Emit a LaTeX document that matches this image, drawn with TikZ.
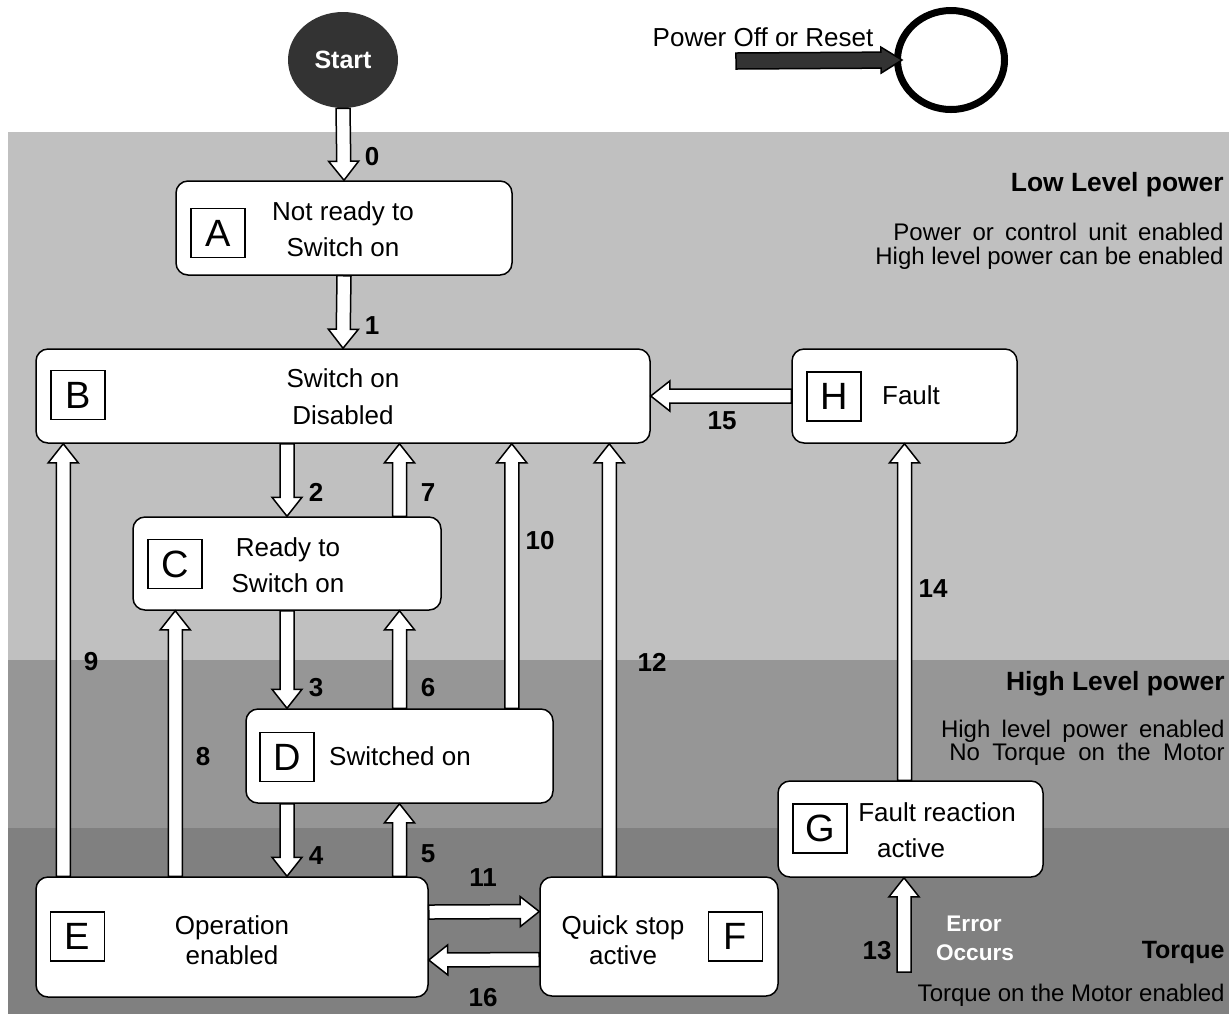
\documentclass[tikz,border=0pt]{standalone}
\usepackage{fontspec}
\setmainfont{Liberation Sans}
\usetikzlibrary{calc,shapes.geometric}
\definecolor{bandlow}{HTML}{C0C0C0}
\definecolor{bandhigh}{HTML}{969696}
\definecolor{bandtorque}{HTML}{808080}
\definecolor{darkfill}{HTML}{333333}

% block arrow sizes: shaft half width, head half width, head length
\def\basw{3.5pt}
\def\bahw{7.5pt}
\def\bahl{9.5pt}
% \blockarrow[style]{from}{to}: outlined wide arrow between two points
\newcommand\blockarrow[3][]{%
  \coordinate (ba-s) at (#2);
  \coordinate (ba-t) at (#3);
  \coordinate (ba-b) at ($(ba-t)!\bahl!(ba-s)$);
  \draw[blockarrow,#1]
    ($(ba-s)!\basw!90:(ba-t)$) -- ($(ba-b)!\basw!90:(ba-t)$) --
    ($(ba-b)!\bahw!90:(ba-t)$) -- (ba-t) --
    ($(ba-b)!\bahw!-90:(ba-t)$) -- ($(ba-b)!\basw!-90:(ba-t)$) --
    ($(ba-s)!\basw!-90:(ba-t)$) -- cycle;
}
% \widespace{extra}{text}: text with widened word spaces
\newcommand\widespace[2]{{\spaceskip=\dimexpr\fontdimen2\font+#1\relax #2}}

\begin{document}
\begin{tikzpicture}[x=0.5pt,y=-0.5pt,
  state/.style={draw, fill=white, line width=0.75pt, rounded corners=6pt, inner sep=0pt},
  letterbox/.style={draw, fill=white, line width=0.75pt, minimum width=27pt,
    minimum height=24.5pt, inner sep=0pt, font=\fontsize{19}{21}\selectfont},
  txt/.style={inner sep=0pt, text height=9.3pt, text depth=0pt, font=\fontsize{13}{15}\selectfont},
  num/.style={inner sep=0pt, text height=9.3pt, text depth=0pt, font=\fontsize{13}{15}\selectfont\bfseries},
  head/.style={anchor=east, inner sep=0pt, text height=9.4pt, text depth=0pt,
    font=\fontsize{13.2}{15}\selectfont\bfseries},
  desc/.style={anchor=east, inner sep=0pt, text height=8.6pt, text depth=0pt,
    font=\fontsize{12}{14}\selectfont},
  note/.style={inner sep=0pt, text height=8.1pt, text depth=0pt, text=white,
    font=\fontsize{11.3}{13}\selectfont\bfseries},
  blockarrow/.style={draw=black, fill=white, line width=0.75pt, line join=miter}]

\useasboundingbox (0,0) rectangle (1229,1014);

% power level bands
\fill[bandlow] (8,132) rectangle (1229,660);
\fill[bandhigh] (8,660) rectangle (1229,828);
\fill[bandtorque] (8,828) rectangle (1229,1014);

% start and reset symbols
\node[ellipse, fill=darkfill, minimum width=55pt, minimum height=48pt, inner sep=0pt,
  text=white, font=\fontsize{12.5}{15}\selectfont\bfseries] (Start) at (343,60) {Start};
\node[ellipse, draw, fill=white, line width=3.5pt, minimum width=53.5pt,
  minimum height=49.5pt, inner sep=0pt] (off) at (951,60) {};
\node[txt] (poff) at (763,37) {Power Off or Reset};
\coordinate (pw) at (736,61);
{\def\basw{4pt}\def\bahw{6.5pt}\def\bahl{10.5pt}%
 \blockarrow[fill=darkfill]{pw}{$(off.west)+(8,0)$}}

% states
\node[state, minimum width=168pt, minimum height=47pt] (A) at (344,228) {};
\node[state, minimum width=307pt, minimum height=47pt] (B) at (343,396) {};
\node[state, minimum width=154pt, minimum height=46.5pt] (C) at (287,563.5) {};
\node[state, minimum width=153.5pt, minimum height=47pt] (D) at (399.5,756) {};
\node[state, minimum width=196pt, minimum height=60pt] (E) at (232,937) {};
\node[state, minimum width=119pt, minimum height=59.5pt] (F) at (659,936.5) {};
\node[state, minimum width=132.5pt, minimum height=48pt] (G) at (910.5,829) {};
\node[state, minimum width=112.5pt, minimum height=47pt] (H) at (904.5,396) {};

% state letters
\node[letterbox] (LA) at (218,233) {A};
\node[letterbox] (LB) at (78,395) {B};
\node[letterbox] (LC) at (175,564) {C};
\node[letterbox] (LD) at (287,757) {D};
\node[letterbox] (LE) at (77.5,936.5) {E};
\node[letterbox] (LF) at (735.5,936.5) {F};
\node[letterbox] (LG) at (820,828.5) {G};
\node[letterbox] (LH) at (834,396.5) {H};

% state names
\node[txt] (tA1) at (343,211) {Not ready to};
\node[txt] (tA2) at (343,247) {Switch on};
\node[txt] (tB1) at (343,378) {Switch on};
\node[txt] (tB2) at (343,415) {Disabled};
\node[txt] (tC1) at (288,547) {Ready to};
\node[txt] (tC2) at (288,583) {Switch on};
\node[txt] (tD) at (400,756) {Switched on};
\node[txt] (tE1) at (232,925) {Operation};
\node[txt] (tE2) at (232,955) {enabled};
\node[txt] (tF1) at (623,925) {Quick stop};
\node[txt] (tF2) at (623,955) {active};
\node[txt] (tG1) at (937,812) {Fault reaction};
\node[txt] (tG2) at (911,848) {active};
\node[txt] (tH) at (911,395) {Fault};

% transitions
\coordinate (x8) at ($(C.south west)+(43,0)$);
\coordinate (x9) at ($(B.south west)+(28,0)$);
\coordinate (x10) at ($(D.north east)+(-42,0)$);
\coordinate (x12) at ($(F.north west)+(70,0)$);
\coordinate (err) at (904,972);

\blockarrow{Start.south}{A.north}
\blockarrow{A.south}{B.north}
\blockarrow{B.south -| C.north}{C.north}
\blockarrow{C.south}{D.north -| C.south}
\blockarrow{D.south -| C.south}{E.north -| C.south}
\blockarrow{E.north -| D.south}{D.south}
\blockarrow{D.north}{C.south -| D.north}
\blockarrow{C.north -| D.north}{B.south -| D.north}
\blockarrow{E.north -| x8}{x8}
\blockarrow{E.north -| x9}{x9}
\blockarrow{x10}{B.south -| x10}
\blockarrow{$(E.east)+(0,-25)$}{$(F.west)+(0,-25)$}
\blockarrow{x12}{B.south -| x12}
\blockarrow{err}{G.south -| err}
\blockarrow{G.north -| H.south}{H.south}
\blockarrow{H.west}{B.east}
\blockarrow{$(F.west)+(0,23)$}{$(E.east)+(0,23)$}

% transition numbers
\node[num] (n0) at (372,156) {0};
\node[num] (n1) at (372,325) {1};
\node[num] (n2) at (316,492) {2};
\node[num] (n3) at (316,687) {3};
\node[num] (n4) at (316,855) {4};
\node[num] (n5) at (428,853) {5};
\node[num] (n6) at (428,687) {6};
\node[num] (n7) at (428,492) {7};
\node[num] (n8) at (203,756) {8};
\node[num] (n9) at (91,661) {9};
\node[num] (n10) at (540,540) {10};
\node[num] (n11) at (483,877) {11};
\node[num] (n12) at (652,662) {12};
\node[num] (n13) at (877,950) {13};
\node[num] (n14) at (933,588) {14};
\node[num] (n15) at (722,420) {15};
\node[num] (n16) at (483,997) {16};

\node[note] (e1) at (974,923) {Error};
\node[note] (e2) at (975,952) {Occurs};

% band descriptions
\node[head] (hl) at (1224,182) {Low Level power};
\node[desc] (dl1) at (1224,232) {\widespace{2.25pt}{Power or control unit enabled}};
\node[desc] (dl2) at (1224,256) {High level power can be enabled};
\node[head] (hh) at (1225,681) {High Level power};
\node[desc] (dh1) at (1225,729) {\widespace{2.35pt}{High level power enabled}};
\node[desc] (dh2) at (1225,752) {\widespace{2.9pt}{No Torque on the Motor}};
\node[head, font=\fontsize{12.5}{15}\selectfont\bfseries] (ht) at (1225,949) {Torque};
\node[desc] (dt) at (1225,993) {Torque on the Motor enabled};
\end{tikzpicture}
\end{document}
